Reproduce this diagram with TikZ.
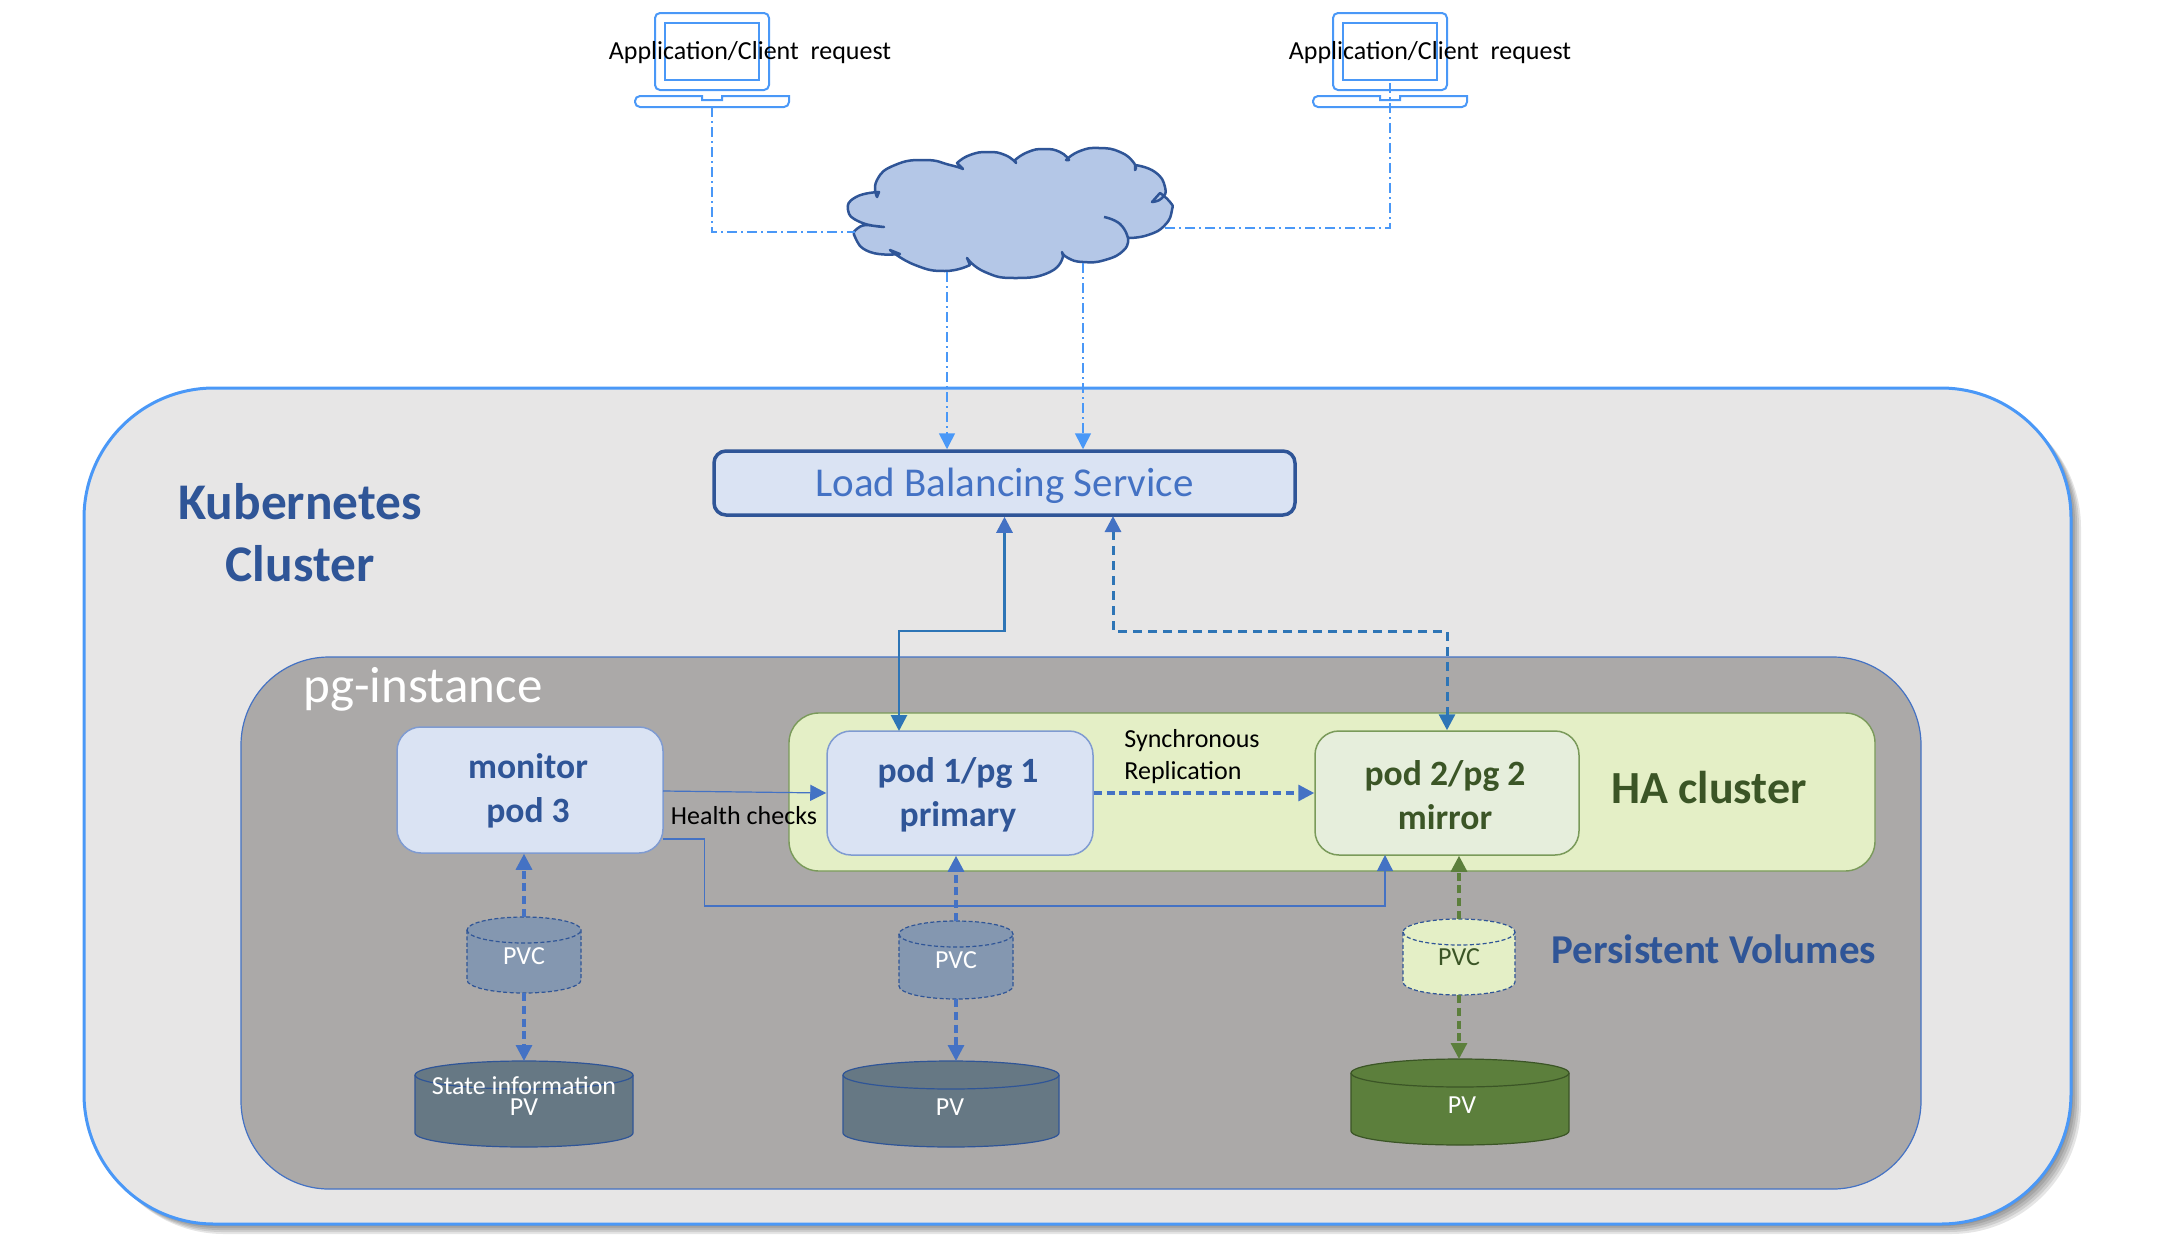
\documentclass[tikz,border=0pt]{standalone}
\usepackage{fontspec}
\setmainfont{Carlito}
\usetikzlibrary{arrows.meta}

\definecolor{clusterfill}{HTML}{E7E6E6}
\definecolor{clusterline}{HTML}{4A98F7}
\definecolor{instancefill}{HTML}{ABA9A8}
\definecolor{boxblue}{HTML}{DAE3F3}
\definecolor{boxline}{HTML}{7F9BD1}
\definecolor{darkblue}{HTML}{2F5597}
\definecolor{midblue}{HTML}{4472C4}
\definecolor{linkblue}{HTML}{2E75B6}
\definecolor{hafill}{HTML}{E4EFC6}
\definecolor{haline}{HTML}{7A9A5A}
\definecolor{mirrorfill}{HTML}{E6EEDC}
\definecolor{darkgreen}{HTML}{3B5526}
\definecolor{midgreen}{HTML}{5C7F3C}
\definecolor{pvcfill}{HTML}{8497B0}
\definecolor{pvfill}{HTML}{667884}
\definecolor{cloudfill}{HTML}{B4C7E7}

%style, name, x, y, half width, half height, cap height
\newcommand{\barrel}[7]{%
	\draw[#1] (#3-#5,#4-#6+#7) -- (#3-#5,#4+#6-#7) arc[start angle=180,end angle=360,x radius=#5*.5pt,y radius=#7*.5pt] -- (#3+#5,#4-#6+#7) arc[start angle=0,end angle=180,x radius=#5*.5pt,y radius=#7*.5pt] -- cycle;
	\draw[#1,fill=none] (#3-#5,#4-#6+#7) arc[start angle=180,end angle=360,x radius=#5*.5pt,y radius=#7*.5pt];
	\node[minimum width=#5pt,minimum height=#6pt,inner sep=0pt,outer sep=0pt] (#2) at (#3,#4) {};
}

\begin{document}
\begin{tikzpicture}
		[x=.5pt,y=-.5pt,line cap=butt,
		%Styles
		panel/.style={draw,rounded corners,inner sep=0pt},
		podbox/.style={panel,fill=boxblue,draw=boxline,line width=.75pt,rounded corners=12pt,minimum width=133pt,minimum height=62pt},
		podtext/.style={font=\fontsize{17.8}{22}\selectfont\bfseries,align=center,text=darkblue,inner sep=0pt},
		tiny text/.style={font=\fontsize{13}{14}\selectfont,inner sep=0pt},
		barreltext/.style={text=white,font=\fontsize{13}{10.5}\selectfont,align=center,inner sep=0pt},
		pvc/.style={fill=pvcfill,draw=darkblue,line width=.6pt,dash pattern=on 2pt off 1.2pt},
		pv/.style={fill=pvfill,draw=darkblue,line width=.6pt},
		tip/.style={-{Triangle[length=8pt,width=8pt]}},
		volume link/.style={tip,midblue,line width=1.6pt,dash pattern=on 4pt off 2.4pt},
		health link/.style={tip,midblue,line width=.6pt},
		client link/.style={clusterline,line width=.8pt,dash pattern=on 5pt off 2pt on 1pt off 2pt},
		laptop/.pic={
			\draw[clusterline,line width=1pt,rounded corners=2.5pt] (-57,77) -- (-57,0) -- (57,0) -- (57,77) -- cycle;
			\draw[clusterline,line width=1pt] (-47,10) rectangle (47,67);
			\draw[clusterline,line width=1pt] (-77,83) -- (-10,83) -- (-10,87) -- (10,87) -- (10,83) -- (77,83) [rounded corners=2.5pt] -- (77,94) -- (-77,94) -- cycle;
			\coordinate (-foot) at (0,94);
			\coordinate (-screen) at (0,70);
		}
		]
		\useasboundingbox (0,0) rectangle (2176,1254);

		%Shadow of the cluster
		\foreach \d in {2,4,6,8,10}
			\fill[black,opacity=.1,rounded corners=65pt] (84+\d,388+\d) rectangle (2071+\d,1224+\d);

		%The panels
		\node[panel,fill=clusterfill,draw=clusterline,line width=1.5pt,rounded corners=65pt,minimum width=993.5pt,minimum height=418pt] (cluster) at (1077.5,806) {};
		\node[panel,fill=instancefill,draw=midblue,line width=.6pt,rounded corners=44pt,minimum width=840pt,minimum height=266pt] (instance) at (1081,923) {};
		\node[panel,fill=hafill,draw=haline,line width=.7pt,rounded corners=15pt,minimum width=543pt,minimum height=79pt] (ha) at (1332,792) {};

		%The boxes
		\node[panel,fill=boxblue,draw=darkblue,line width=1.75pt,rounded corners=6pt,minimum width=290.5pt,minimum height=32pt,text=midblue,font=\fontsize{20.5}{24}\selectfont,text height=16pt,text depth=3pt] (lb) at (1004.5,483) {Load Balancing Service};
		\node[podbox,minimum height=63pt] (monitor) at (530,790) {};
		\node[podbox] (pod1) at (960,793) {};
		\node[podbox,fill=mirrorfill,draw=haline,minimum width=132pt] (pod2) at (1447,793) {};
		\node[podtext] (monitortext) at (528,791) {monitor\\pod 3};
		\node[podtext] (pod1text) at (958,795) {pod 1/pg 1\\primary};
		\node[podtext,text=darkgreen] (pod2text) at (1445,795) {pod 2/pg 2\\mirror};

		%The volumes
		\barrel{pvc}{pvc3}{524}{955}{57}{38}{13}
		\barrel{pvc}{pvc1}{956}{960}{57}{39}{13}
		\barrel{pvc,fill=hafill}{pvc2}{1459}{957}{56}{38}{13}
		\barrel{pv}{pv3}{524}{1104}{109}{43}{14}
		\barrel{pv}{pv1}{951}{1104}{108}{43}{14}
		\barrel{pv,fill=midgreen,draw=darkgreen}{pv2}{1460}{1102}{109}{43}{14}
		\node[barreltext] (pvc3text) at (524,956) {PVC};
		\node[barreltext] (pvc1text) at (956,960) {PVC};
		\node[barreltext,text=darkgreen] (pvc2text) at (1459,957) {PVC};
		\node[barreltext] (pv3text) at (524,1096) {State information\\PV};
		\node[barreltext] (pv1text) at (950,1107) {PV};
		\node[barreltext] (pv2text) at (1462,1105) {PV};

		%The cloud
		\draw[fill=cloudfill,draw=darkblue,line width=1.25pt,line join=round]
			plot[smooth,tension=.9] coordinates {(884,227) (860,222) (848,210) (856,197) (879,192)}
			-- plot[smooth,tension=.9] coordinates {(877,197) (877,180) (895,165) (925,160) (950,165) (963,169)}
			-- plot[smooth,tension=.9] coordinates {(957,163) (970,155) (988,152) (1005,155) (1016,163)}
			-- plot[smooth,tension=.9] coordinates {(1015,160) (1028,152) (1044,149) (1060,152) (1069,160)}
			-- plot[smooth,tension=.9] coordinates {(1066,160) (1080,151) (1099,148) (1120,152) (1134,163) (1135,170)}
			-- plot[smooth,tension=.9] coordinates {(1135,165) (1155,172) (1165,187) (1162,198) (1152,202)}
			-- plot[smooth,tension=.9] coordinates {(1160,193) (1170,202) (1172,210) (1165,225) (1148,235) (1128,238)}
			-- plot[smooth,tension=.9] coordinates {(1128,238) (1124,250) (1105,260) (1083,262) (1068,258) (1062,252)}
			-- plot[smooth,tension=.9] coordinates {(1063,256) (1050,272) (1015,278) (985,272) (967,258)}
			-- plot[smooth,tension=.9] coordinates {(970,265) (945,271) (915,265) (890,250)}
			-- plot[smooth,tension=.9] coordinates {(900,254) (870,252) (855,237) (858,228) (867,225)}
			-- cycle;
		\draw[darkblue,line width=1.25pt] plot[smooth,tension=.9] coordinates {(1104,217) (1120,224) (1128,238)};
		\coordinate (cloudleft) at (855,232);
		\coordinate (cloudright) at (1165,228);
		\coordinate (clouddownA) at (947,272);
		\coordinate (clouddownB) at (1083,263);

		%The clients
		\pic (lapA) at (712,13) {laptop};
		\pic (lapB) at (1390,13) {laptop};
		\node[tiny text] (clientA) at (750,53) {Application/Client\ \ request};
		\node[tiny text] (clientB) at (1430,53) {Application/Client\ \ request};

		%The labels
		\node[font=\fontsize{25.7}{31}\selectfont\bfseries,align=center,text=darkblue,inner sep=0pt] (kube) at (300,533) {Kubernetes\\Cluster};
		\node[font=\fontsize{25.5}{28}\selectfont,text=white,inner sep=0pt] (instancetext) at (423,689) {pg-instance};
		\node[font=\fontsize{23}{26}\selectfont\bfseries,text=darkgreen,inner sep=0pt] (hatext) at (1709,788) {HA cluster};
		\node[font=\fontsize{20.5}{23}\selectfont\bfseries,text=darkblue,inner sep=0pt] (pvtext) at (1714,949) {Persistent Volumes};
		\node[tiny text] (health) at (744,816) {Health checks};
		\node[tiny text,align=left,anchor=west,font=\fontsize{13}{16}\selectfont] (sync) at (1124,757) {Synchronous\\Replication};

		%Lines from the clients
		\draw[client link] (lapA-foot) |- (cloudleft);
		\draw[client link] (lapB-screen) |- (cloudright);
		\draw[client link,tip] (clouddownA) -- (clouddownA |- lb.north);
		\draw[client link,tip] (clouddownB) -- (clouddownB |- lb.north);

		%Lines to the load balancer
		\coordinate (midline) at (0,631);
		\coordinate (lbdash) at (1113,516);
		\coordinate (pod1top) at (899,731);
		\draw[linkblue,line width=1.4pt,{Triangle[length=8pt,width=8pt,color=midblue,fill=midblue]}-{Triangle[length=8pt,width=8pt]}] (lb.south) -- (lb.south |- midline) -| (pod1top);
		\draw[linkblue,line width=1.5pt,dash pattern=on 4.5pt off 3pt,{Triangle[length=8pt,width=8pt,color=midblue,fill=midblue]}-{Triangle[length=8pt,width=8pt]}] (lbdash) -- (lbdash |- midline) -| (pod2.north);

		%Health checks and replication
		\coordinate (monhigh) at (663,791);
		\coordinate (monlow) at (663,839);
		\coordinate (healthbend) at (704.5,906);
		\coordinate (pod2low) at (1385,855);
		\draw[health link] (monhigh) -- (pod1.west);
		\draw[health link] (monlow) -| (healthbend) -| (pod2low);
		\draw[volume link] (pod1.east) -- (pod2.west);

		%Lines between pods and volumes
		\draw[volume link] (pvc3.north) -- (pvc3.north |- monitor.south);
		\draw[volume link] (pvc3.south) -- (pv3.north);
		\draw[volume link] (pvc1.north) -- (pvc1.north |- pod1.south);
		\draw[volume link] (pvc1.south) -- (pvc1.south |- pv1.north);
		\draw[volume link,midgreen] (pvc2.north) -- (pvc2.north |- pod2.south);
		\draw[volume link,midgreen] (pvc2.south) -- (pvc2.south |- pv2.north);
	\end{tikzpicture}
\end{document}
